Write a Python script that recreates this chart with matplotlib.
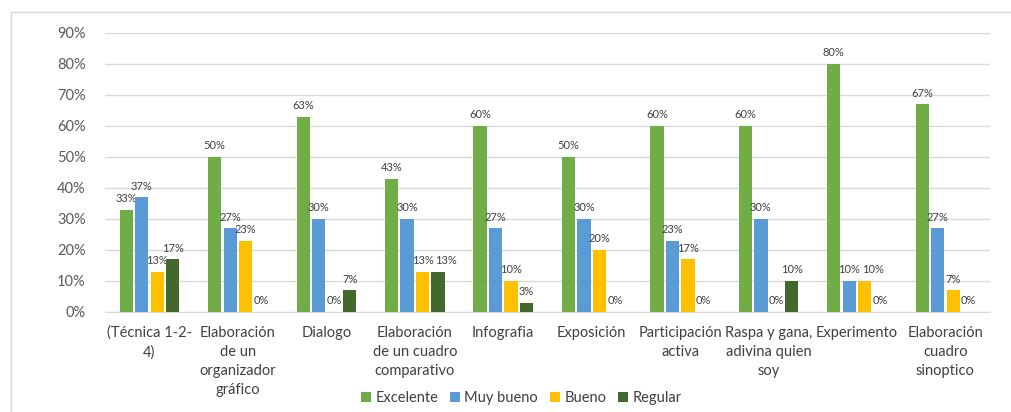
import numpy as np
import matplotlib.pyplot as plt
from matplotlib.patches import Rectangle

categorias = [
    "(Técnica 1-2-\n4)",
    "Elaboración\nde un\norganizador\ngráfico",
    "Dialogo",
    "Elaboración\nde un cuadro\ncomparativo",
    "Infografia",
    "Exposición",
    "Participación\nactiva",
    "Raspa y gana,\nadivina quien\nsoy",
    "Experimento",
    "Elaboración\ncuadro\nsinoptico",
]

excelente = [33, 50, 63, 43, 60, 50, 60, 60, 80, 67]
muy_bueno = [37, 27, 30, 30, 27, 30, 23, 30, 10, 27]
bueno = [13, 23, 0, 13, 10, 20, 17, 0, 10, 7]
regular = [17, 0, 7, 13, 3, 0, 0, 10, 0, 0]

series = [
    ("Excelente", excelente, "#70AD47"),
    ("Muy bueno", muy_bueno, "#5B9BD5"),
    ("Bueno", bueno, "#FFC000"),
    ("Regular", regular, "#43682B"),
]

plt.rcParams['font.family'] = ['Lato', 'DejaVu Sans']

fig = plt.figure(figsize=(10.12, 4.12), dpi=100)
ax = fig.add_axes([0.104, 0.243, 0.874, 0.677])

# marco exterior del gráfico
fig.patches.append(Rectangle((11 / 1012, -0.1), 1.1, (412 - 12) / 412 + 0.1,
                             transform=fig.transFigure, fill=False,
                             edgecolor="#D9D9D9", linewidth=1))

x = np.arange(len(categorias))
paso = 0.175
ancho = 0.15

etiquetas = [[] for _ in categorias]
for i, (nombre, valores, color) in enumerate(series):
    pos = x + (i - 1.5) * paso
    ax.bar(pos, valores, width=ancho, color=color, label=nombre, zorder=3)
    for g, (px, v) in enumerate(zip(pos, valores)):
        t = ax.annotate(f"{v}%", (px, v), xytext=(0, 4), textcoords="offset points",
                        ha="center", va="bottom", fontsize=8, color="#404040")
        etiquetas[g].append(t)

ax.set_xlim(-0.5, len(categorias) - 0.5)
ax.set_ylim(0, 90)
ax.set_yticks(range(0, 91, 10))
ax.set_yticklabels([f"{t}%" for t in range(0, 91, 10)])
ax.set_xticks(x)
ax.set_xticklabels(categorias, fontsize=10.5, color="#404040", linespacing=1.45)
ax.tick_params(axis="y", length=0, labelsize=10.5, labelcolor="#595959", pad=14)
ax.tick_params(axis="x", length=0, pad=10)

ax.grid(axis="y", color="#D9D9D9", linewidth=1, zorder=0)
for s in ["top", "right", "left"]:
    ax.spines[s].set_visible(False)
ax.spines["bottom"].set_color("#D9D9D9")

fig.legend(loc="lower center", bbox_to_anchor=(0.515, -0.015), ncol=4,
           frameon=False, fontsize=10.5, handlelength=0.7, handleheight=0.7,
           handletextpad=0.3, columnspacing=0.8, labelcolor="#404040")

# separar etiquetas vecinas que se pisan dentro de un mismo grupo
fig.canvas.draw()
rend = fig.canvas.get_renderer()
for grupo in etiquetas:
    for a, b in zip(grupo[:-1], grupo[1:]):
        ea = a.get_window_extent(rend)
        eb = b.get_window_extent(rend)
        if ea.overlaps(eb):
            dx = ea.x1 - eb.x0 + 2
            ox, oy = b.xyann
            b.xyann = (ox + dx * 72 / fig.dpi, oy)

plt.savefig("out.png", dpi=100)
